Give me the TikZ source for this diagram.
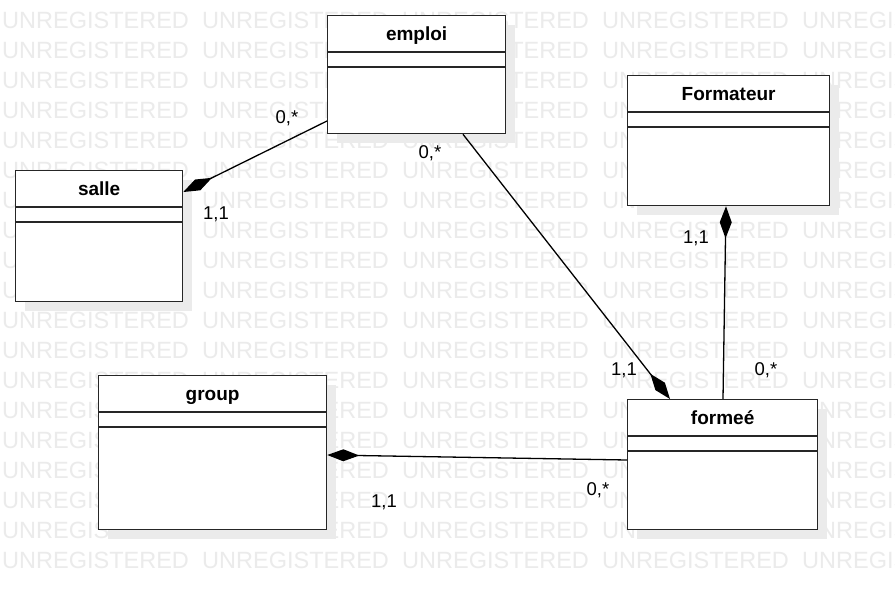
\documentclass[tikz,border=0pt]{standalone}
\usepackage{fontspec}
\setmainfont{Liberation Sans}
\usetikzlibrary{arrows.meta,calc}
\begin{document}
\begin{tikzpicture}[x=1pt,y=-1pt,
  cls/.style={draw=black!85, line width=1.3pt, fill=white, anchor=north west, inner sep=0pt},
  shadowbox/.style={fill=black!8, draw=none},
  title/.style={anchor=base, font=\bfseries\fontsize{19}{22}\selectfont, inner sep=0pt},
  mult/.style={anchor=base, font=\fontsize{18.5}{22}\selectfont, inner sep=0pt},
  wm/.style={anchor=base west, text=black!8, font=\fontsize{23.5}{26}\selectfont, inner sep=0pt},
  sep/.style={draw=black!85, line width=1.3pt},
  link/.style={draw=black, line width=1.3pt},
  comp/.style={{Diamond[length=32pt,width=12pt]}-},
]
\useasboundingbox (0,0) rectangle (895,589);
\fill[white] (0,0) rectangle (895,589);
% shadows
\fill[shadowbox] (25,180) rectangle ++(167,131);
\fill[shadowbox] (337,25) rectangle ++(178,118);
\fill[shadowbox] (637,85) rectangle ++(202,130);
\fill[shadowbox] (637,409) rectangle ++(190,130);
\fill[shadowbox] (108,385) rectangle ++(228,154);
% watermark
\foreach \r in {0,...,18} {
  \foreach \c in {0,...,4} {
    \node[wm] (wm-\r-\c) at ({200*\c+2}, {28+30*\r}) {UNREGISTERED};
  }
}
% classes
\node[cls, minimum width=167pt, minimum height=131pt] (salle) at (15,170) {};
\node[cls, minimum width=178pt, minimum height=118pt] (emploi) at (327,15) {};
\node[cls, minimum width=202pt, minimum height=130pt] (formateur) at (627,75) {};
\node[cls, minimum width=190pt, minimum height=130pt] (formee) at (627,399) {};
\node[cls, minimum width=228pt, minimum height=154pt] (group) at (98,375) {};
\foreach \b/\t in {salle/salle, emploi/emploi, formateur/Formateur, formee/formeé, group/group} {
  \node[title] (\b-title) at ($(\b.north)+(0,25)$) {\t};
  \draw[sep] ($(\b.north west)+(0,37)$) -- ($(\b.north east)+(0,37)$);
  \draw[sep] ($(\b.north west)+(0,52)$) -- ($(\b.north east)+(0,52)$);
}
% connection points
\coordinate (e1) at ($(emploi.north west)+(0,106)$);
\coordinate (s1) at ($(salle.north east)+(0,22)$);
\coordinate (e2) at ($(emploi.south west)+(136,0)$);
\coordinate (f2) at ($(formee.north west)+(43,0)$);
\coordinate (t3) at ($(formateur.south west)+(99,0)$);
\coordinate (f3) at ($(formee.north west)+(96,0)$);
\coordinate (g4) at ($(group.north east)+(0,80)$);
\coordinate (f4) at ($(formee.north west)+(0,61)$);
% connectors
\draw[link, comp] (s1) -- (e1);
\draw[link, comp] (f2) -- (e2);
\draw[link, comp] (t3) -- (f3);
\draw[link, comp] (g4) -- (f4);
% multiplicities
\node[mult] (m1) at (287,123) {0,*};
\node[mult] (m2) at (216,219) {1,1};
\node[mult] (m3) at (430,158) {0,*};
\node[mult] (m4) at (624,375) {1,1};
\node[mult] (m5) at (696,243) {1,1};
\node[mult] (m6) at (766,375) {0,*};
\node[mult] (m7) at (598,495) {0,*};
\node[mult] (m8) at (384,507) {1,1};
\end{tikzpicture}
\end{document}
